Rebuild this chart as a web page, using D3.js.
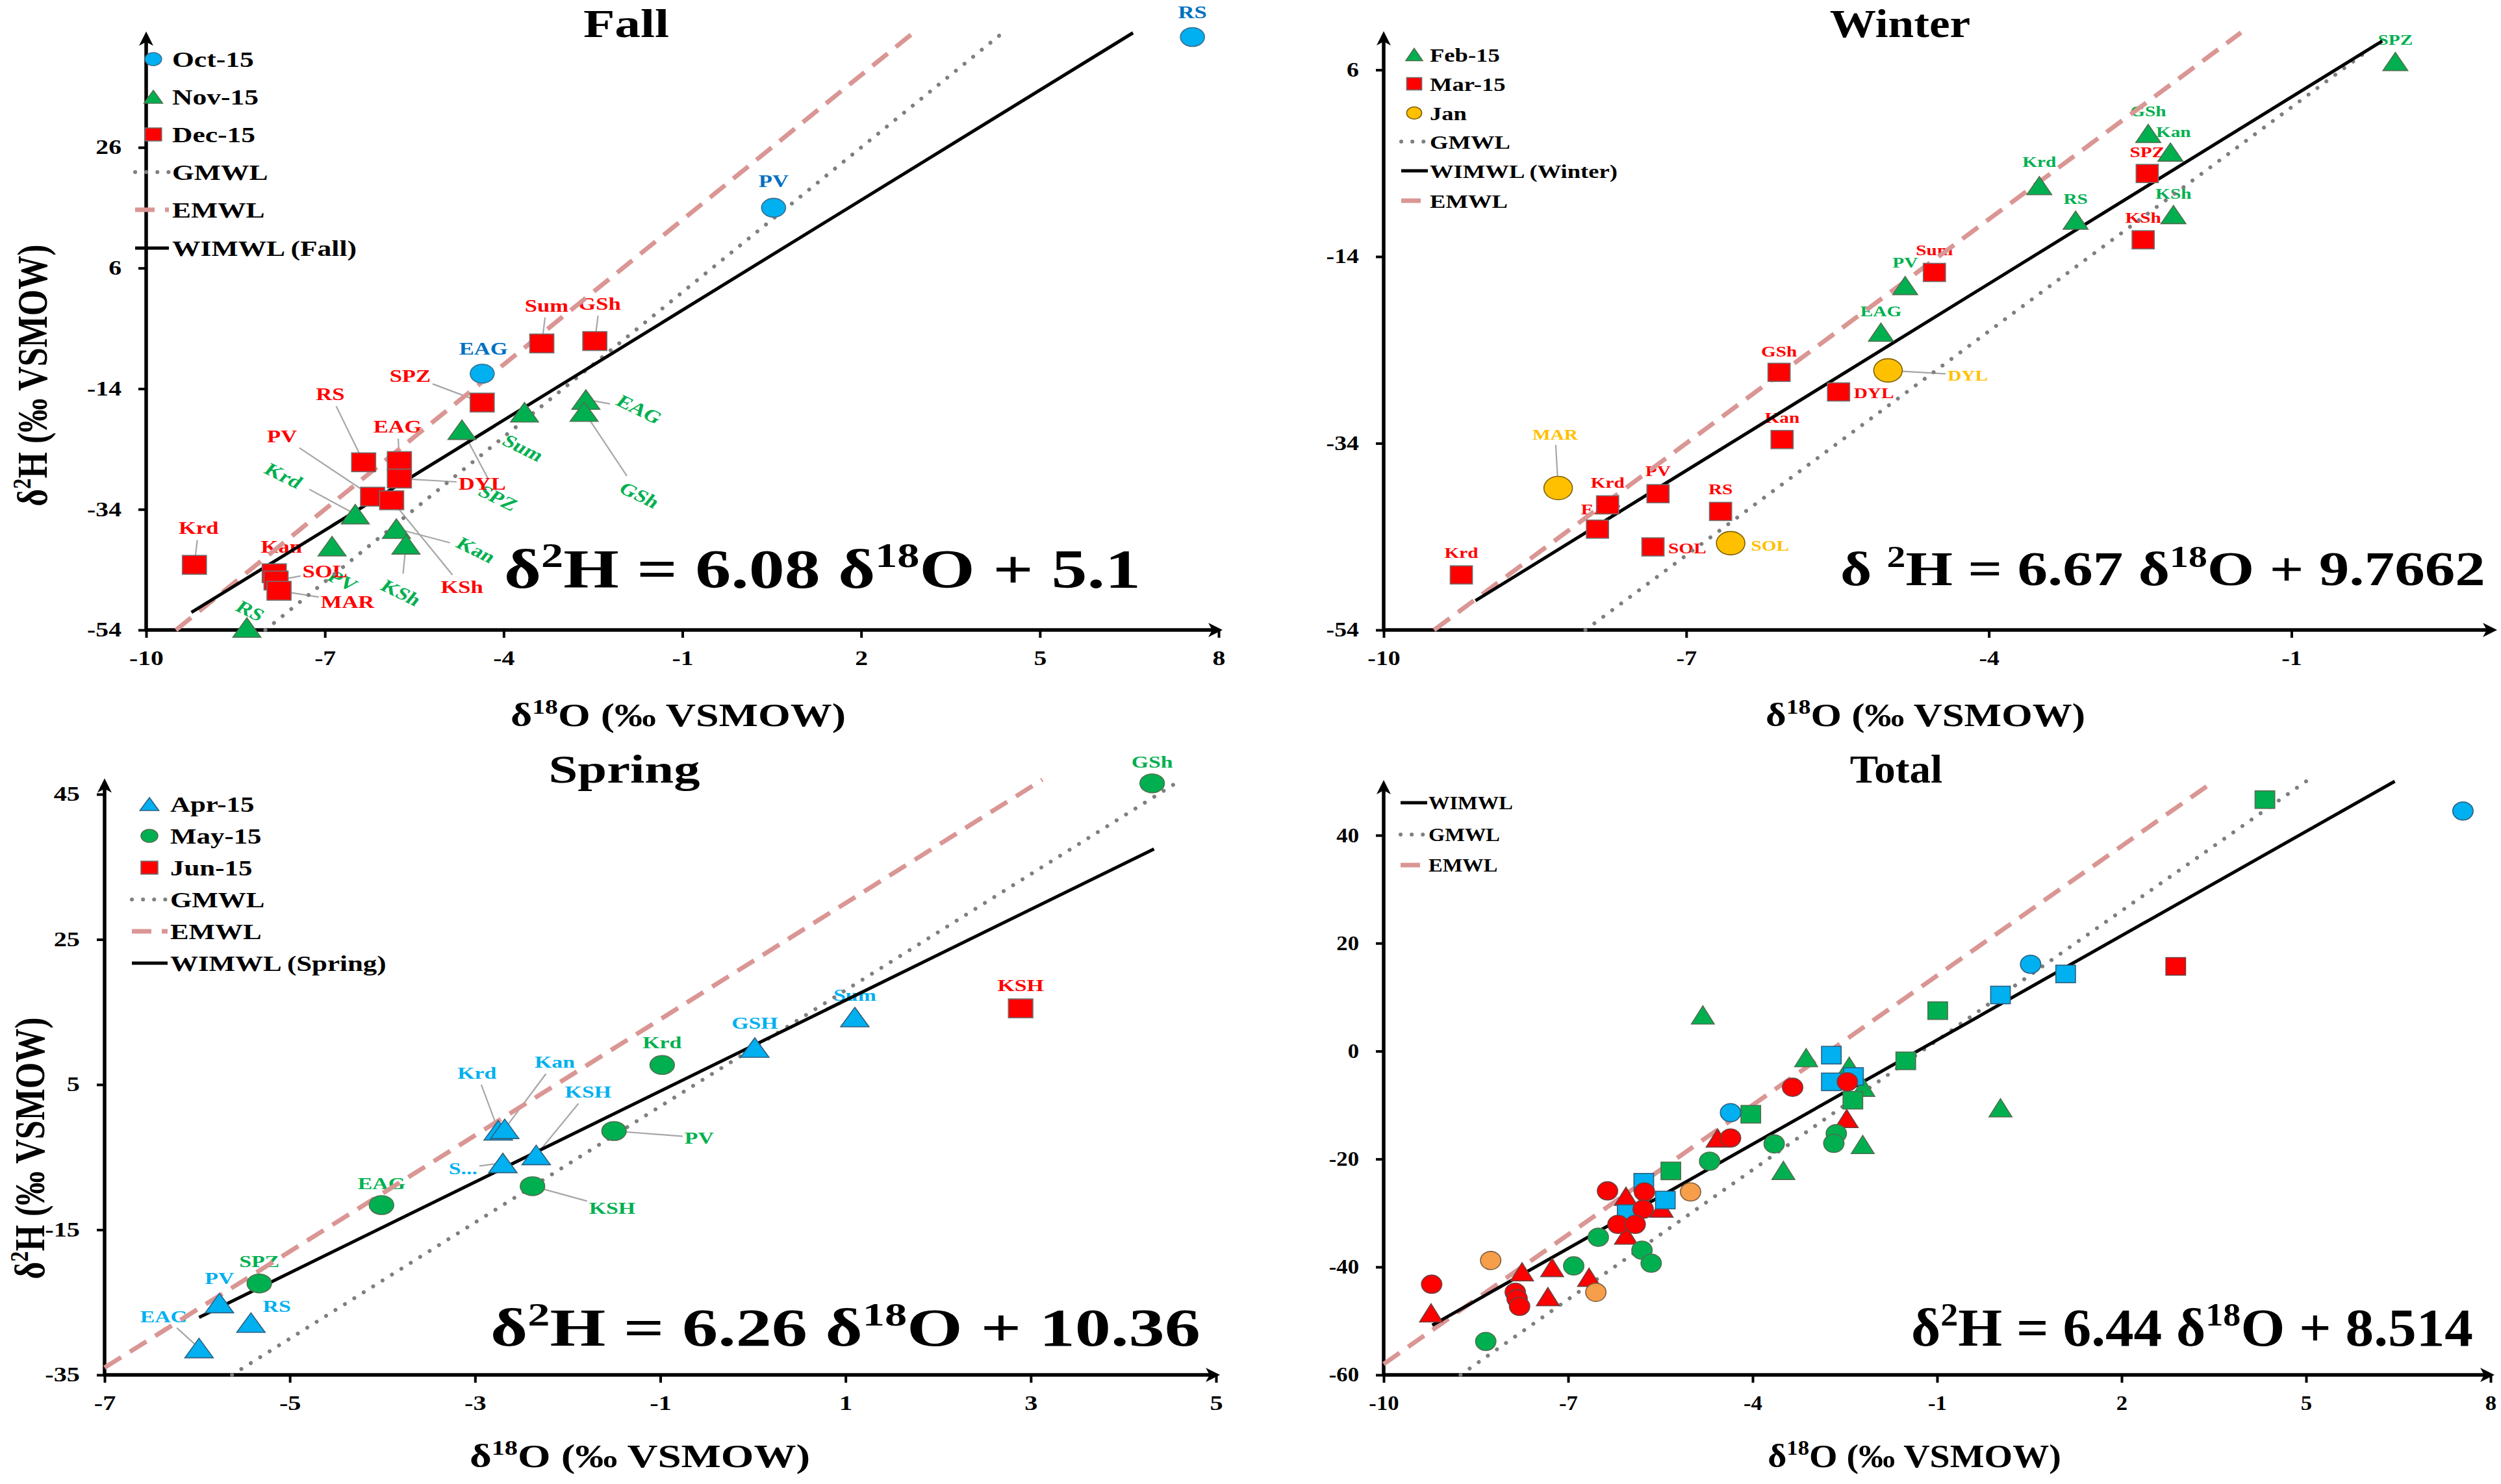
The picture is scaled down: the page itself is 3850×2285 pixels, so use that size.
<!DOCTYPE html>
<html><head><meta charset="utf-8">
<script src="https://cdn.jsdelivr.net/npm/d3@7/dist/d3.min.js"></script>
<style>
html,body{margin:0;padding:0;background:#fff;}
svg{display:block;}
</style></head><body>
<svg id="chart" width="3850" height="2285"></svg>
<script>
// ======================= DATA =======================
// ---- Fall ----  [site, d18O, d2H]
const fallOct = [["RS",7.56,44.3],["PV",0.53,16.0],["EAG",-4.36,-11.5]];
const fallNov = [["RS",-8.31,-53.6],["PV",-6.88,-40.1],["Krd",-6.49,-34.8],["Kan",-5.80,-37.2],["KSh",-5.64,-39.8],
                 ["SPZ",-4.70,-20.8],["Sum",-3.65,-17.9],["EAG",-2.62,-15.8],["GSh",-2.65,-17.8]];
const fallDec = [["Krd",-9.19,-43.2],["Kan",-7.85,-44.6],["SOL",-7.82,-45.8],["MAR",-7.77,-47.5],["RS",-6.35,-26.2],
                 ["EAG",-5.75,-26.0],["DYL",-5.75,-28.9],["PV",-6.20,-31.9],["KSh",-5.88,-32.5],["SPZ",-4.36,-16.3],
                 ["Sum",-3.36,-6.5],["GSh",-2.47,-6.1]];
// ---- Winter ----
const winterFeb = [["SPZ",0.03,6.9],["GSh",-2.42,-0.8],["Kan",-2.20,-2.8],["Krd",-3.50,-6.4],["KSh",-2.17,-9.5],
                   ["RS",-3.14,-10.1],["PV",-4.83,-17.1],["EAG",-5.07,-22.1]];
const winterMar = [["SPZ",-2.43,-5.1],["KSh",-2.47,-12.2],["Sum",-4.54,-15.7],["GSh",-6.08,-26.4],["DYL",-5.49,-28.5],
                   ["Kan",-6.05,-33.6],["PV",-7.28,-39.4],["Krd",-7.78,-40.6],["EAG",-7.88,-43.2],["RS",-6.66,-41.3],
                   ["SOL",-7.33,-45.1],["Krd",-9.23,-48.1]];
const winterJan = [["MAR",-8.27,-38.8],["DYL",-5.00,-26.2],["SOL",-6.56,-44.7]];
// ---- Spring ----
const springApr = [["Sum",1.10,14.3],["GSH",0.02,10.1],["Krd",-2.75,-1.3],["Kan",-2.68,-1.1],["KSH",-2.34,-4.7],
                   ["S...",-2.70,-5.8],["PV",-5.76,-25.1],["RS",-5.42,-27.8],["EAG",-5.98,-31.3]];
const springMay = [["GSh",4.31,46.5],["Krd",-0.98,7.7],["PV",-1.50,-1.4],["KSH",-2.38,-9.0],["EAG",-4.01,-11.6],["SPZ",-5.33,-22.4]];
const springJun = [["KSH",2.89,15.5]];
// ---- Total ----  [d18O, d2H]
const totalOct = [[7.55,44.5],[0.52,16.1],[-4.36,-11.4]];
const totalNov = [[-8.34,-53.8],[-6.91,-39.8],[-6.51,-34.5],[-5.80,-36.9],[-5.65,-39.3],[-4.70,-20.4],[-3.65,-17.2],[-2.64,-15.3],[-2.68,-17.1]];
const totalDec = [[-9.22,-43.2],[-7.86,-44.7],[-7.83,-45.9],[-7.79,-47.3],[-6.36,-25.9],[-5.76,-26.1],[-5.78,-29.3],[-6.19,-32.1],
                  [-5.91,-32.1],[-4.36,-16.1],[-3.35,-6.7],[-2.46,-5.7]];
const totalJan = [[-8.26,-38.8],[-6.55,-44.7],[-5.01,-26.1]];
const totalFeb = [[-4.81,6.7],[-3.13,-1.2],[-2.43,-2.8],[-2.20,-6.7],[-2.21,-17.3],[-3.50,-22.1],[0.03,-10.5]];
const totalMar = [[-9.23,-48.5],[-7.75,-40.9],[-7.26,-40.1],[-7.33,-45.5],[-6.66,-41.9],[-6.06,-34.1],[-6.06,-26.9],[-5.48,-29.1],[-4.57,-16.1],[-2.47,-12.5]];
const totalApr = [[1.09,14.3],[0.03,10.4],[-2.72,-0.75],[-2.72,-5.7],[-2.36,-4.7],[-5.77,-24.3],[-5.42,-27.6],[-6.04,-30.1]];
const totalMay = [[4.33,46.6],[-0.99,7.5],[-1.51,-1.8],[-2.37,-9.1],[-4.03,-11.7],[-5.33,-22.2]];
const totalJun = [[2.88,15.7]];

// ---- data-label anchors (data units), aligned with the series above; 3rd value = leader line ----
const fallOctLab = [[7.56,48.4,0],[0.53,20.4,0],[-4.34,-7.3,0]];
const fallNovLab = [[-8.25,-50.8,0],[-6.70,-45.8,0],[-7.69,-28.4,1],[-4.46,-40.7,1],[-5.72,-47.8,1],
                    [-4.09,-32.1,1],[-3.67,-23.8,0],[-1.72,-17.4,1],[-1.72,-31.6,1]];
const fallDecLab = [[-9.12,-37.1,1],[-7.73,-40.2,0],[-7.00,-44.3,1],[-6.62,-49.3,1],[-6.91,-14.9,1],
                    [-5.78,-20.3,1],[-4.36,-29.7,1],[-7.72,-21.9,1],[-4.70,-46.8,1],[-5.57,-11.8,1],
                    [-3.28,-0.2,1],[-2.39,0.1,1]];
const winterFebLab = [[0.03,9.3,0],[-2.42,1.6,0],[-2.17,-0.6,0],[-3.50,-3.8,0],[-2.17,-7.2,0],[-3.14,-7.8,0],[-4.83,-14.6,0],[-5.07,-19.8,0]];
const winterMarLab = [[-2.43,-2.8,0],[-2.47,-9.8,0],[-4.54,-13.3,0],[-6.08,-24.1,0],[-5.14,-28.6,0],[-6.05,-31.2,0],
                      [-7.28,-36.9,0],[-7.78,-38.2,0],[-7.84,-41.0,0],[-6.66,-38.9,0],[-6.99,-45.2,0],[-9.23,-45.7,0]];
const winterJanLab = [[-8.30,-33.0,1],[-4.21,-26.7,1],[-6.17,-44.9,0]];
const springAprLab = [[1.10,17.4,0],[0.02,13.5,0],[-2.98,6.6,1],[-2.14,8.1,1],[-1.78,4.0,1],[-3.13,-6.5,1],
                      [-5.76,-21.7,0],[-5.14,-25.5,0],[-6.36,-26.9,1]];
const springMayLab = [[4.31,49.5,0],[-0.98,10.8,0],[-0.58,-2.3,1],[-1.52,-12.0,1],[-4.01,-8.6,0],[-5.33,-19.3,0]];
const springJunLab = [[2.89,18.7,0]];

// ---- axes ticks ----
const fallTicksX = [-10,-7,-4,-1,2,5,8],   fallTicksY = [-54,-34,-14,6,26];
const winterTicksX = [-10,-7,-4,-1],       winterTicksY = [-54,-34,-14,6];
const springTicksX = [-7,-5,-3,-1,1,3,5],  springTicksY = [-35,-15,5,25,45];
const totalTicksX = [-10,-7,-4,-1,2,5,8],  totalTicksY = [-60,-40,-20,0,20,40];

// ---- meteoric water lines: slope, intercept, x-extent ----
const GMWL = [8, 10], EMWL = [8, 22];
const wimwlFall = [6.08, 5.1], wimwlWinter = [6.67, 9.7662], wimwlSpring = [6.26, 10.36], wimwlTotal = [6.44, 8.514];
const fallLineX   = {GMWL:[-10,8],    EMWL:[-10,8],  WIMWL:[-9.24,8]};
const winterLineX = {GMWL:[-10,-0.3], EMWL:[-10,1],  WIMWL:[-9.09,-0.1]};
const springLineX = {GMWL:[-7,5],     EMWL:[-7,5],   WIMWL:[-5.98,4.33]};
const totalLineX  = {GMWL:[-10,8],    EMWL:[-10,8],  WIMWL:[-9.21,8]};

// ---- text ----
const fallLegend   = [["Oct-15","s0"],["Nov-15","s1"],["Dec-15","s2"],["GMWL","GMWL"],["EMWL","EMWL"],["WIMWL (Fall)","WIMWL"]];
const winterLegend = [["Feb-15","s0"],["Mar-15","s1"],["Jan","s2"],["GMWL","GMWL"],["WIMWL (Winter)","WIMWL"],["EMWL","EMWL"]];
const springLegend = [["Apr-15","s0"],["May-15","s1"],["Jun-15","s2"],["GMWL","GMWL"],["EMWL","EMWL"],["WIMWL (Spring)","WIMWL"]];
const totalLegend  = [["WIMWL","WIMWL"],["GMWL","GMWL"],["EMWL","EMWL"]];
const fallEq   = [["δ"],["2",1],["H = 6.08 δ"],["18",1],["O + 5.1"]];
const winterEq = [["δ "],["2",1],["H = 6.67 δ"],["18",1],["O + 9.7662"]];
const springEq = [["δ"],["2",1],["H = 6.26 δ"],["18",1],["O + 10.36"]];
const totalEq  = [["δ"],["2",1],["H = 6.44 δ"],["18",1],["O + 8.514"]];
const xTitle = [["δ"],["18",1],["O (‰ VSMOW)"]];
const yTitle = [["δ"],["2",1],["H (‰ VSMOW)"]];

// ======================= STYLE / LAYOUT =======================
const FONT = "'Liberation Serif','Times New Roman',serif";
const C = {blue:"#00B0F0", green:"#00B050", red:"#FF0000", gold:"#FFC000", orange:"#F79E4A"};
const LINE_STYLE = {
  GMWL:{stroke:"#7F7F7F", w:6, dash:"0.1 17", cap:"round"},
  EMWL:{stroke:"#DA9694", w:7, dash:"30 16", cap:"butt"},
  WIMWL:{stroke:"#000000", w:5, dash:null, cap:"butt"}
};

const PANELS = [
 { title:"Fall", sx:1.28, tsx:1.28,
   xDomain:[-10,8], yDomain:[-54,45], xRange:[225,1876], yRange:[970,50.5],
   xTicks:fallTicksX, yTicks:fallTicksY,
   titlePos:[964,57], xTitlePos:[1044,1118], yTitlePos:[72,578],
   eq:{parts:fallEq, x:776, y:905, w:980, size:84},
   wimwl:wimwlFall, lineX:fallLineX, labelSize:27,
   series:[
     {data:fallOct, lab:fallOctLab, shape:"circle",   fill:C.blue,  stroke:"#3a6f8f", lc:"#0070C0", h:29},
     {data:fallNov, lab:fallNovLab, shape:"triangle", fill:C.green, stroke:"#4f6f4f", lc:"#00B050", h:30, rot:32},
     {data:fallDec, lab:fallDecLab, shape:"square",   fill:C.red,   stroke:"#6f6f6f", lc:"#FF0000", h:29}],
   legend:{items:fallLegend, mx:236, tx:265, lx:[208,260], rows:[91,149,207,265,323,382], size:34, mh:20}
 },
 { title:"Winter", sx:1.22, tsx:1.15,
   xDomain:[-10,1], yDomain:[-54,10], xRange:[2130,3838], yRange:[970,50.1],
   xTicks:winterTicksX, yTicks:winterTicksY,
   titlePos:[2925,57], xTitlePos:[2964,1118], yTitlePos:null,
   eq:{parts:winterEq, x:2833, y:901, w:993, size:74},
   wimwl:wimwlWinter, lineX:winterLineX, labelSize:24,
   series:[
     {data:winterFeb, lab:winterFebLab, shape:"triangle", fill:C.green, stroke:"#4f6f4f", lc:"#00B050", h:28},
     {data:winterMar, lab:winterMarLab, shape:"square",   fill:C.red,   stroke:"#6f6f6f", lc:"#FF0000", h:28},
     {data:winterJan, lab:winterJanLab, shape:"circle",   fill:C.gold,  stroke:"#7F6000", lc:"#FFC000", h:36}],
   legend:{items:winterLegend, mx:2177, tx:2201, lx:[2157,2198], rows:[84,129,174,218,263,309], size:30, mh:19}
 },
 { title:"Spring", sx:1.3, tsx:1.3,
   xDomain:[-7,5], yDomain:[-35,47], xRange:[161,1872], yRange:[2117,1200.6],
   xTicks:springTicksX, yTicks:springTicksY,
   titlePos:[961,1205], xTitlePos:[985,2259], yTitlePos:[68,1768],
   eq:{parts:springEq, x:755, y:2072, w:1093, size:82},
   wimwl:wimwlSpring, lineX:springLineX, labelSize:26,
   series:[
     {data:springApr, lab:springAprLab, shape:"triangle", fill:C.blue,  stroke:"#2f5f7f", lc:"#00B0F0", h:30},
     {data:springMay, lab:springMayLab, shape:"circle",   fill:C.green, stroke:"#4f6f4f", lc:"#00B050", h:29},
     {data:springJun, lab:springJunLab, shape:"square",   fill:C.red,   stroke:"#6f6f6f", lc:"#FF0000", h:29}],
   legend:{items:springLegend, mx:230, tx:262, lx:[203,258], rows:[1238,1287,1336,1385,1434,1483], size:33, mh:20}
 },
 { title:"Total", sx:1.12, tsx:1.05,
   xDomain:[-10,8], yDomain:[-60,50], xRange:[2130,3834], yRange:[2117,1203],
   xTicks:totalTicksX, yTicks:totalTicksY,
   titlePos:[2919,1205], xTitlePos:[2947,2259], yTitlePos:null,
   eq:{parts:totalEq, x:2942, y:2072, w:865, size:82},
   wimwl:wimwlTotal, lineX:totalLineX, labelSize:26,
   series:[
     {data:totalFeb, shape:"triangle", fill:C.green,  stroke:"#4f6f4f", h:28},
     {data:totalMar, shape:"triangle", fill:C.red,    stroke:"#6f3f3f", h:28},
     {data:totalApr, shape:"square",   fill:C.blue,   stroke:"#2f5f7f", h:27},
     {data:totalMay, shape:"square",   fill:C.green,  stroke:"#4f6f4f", h:27},
     {data:totalJun, shape:"square",   fill:C.red,    stroke:"#6f3f3f", h:27},
     {data:totalOct, shape:"circle",   fill:C.blue,   stroke:"#2f5f7f", h:28},
     {data:totalNov, shape:"circle",   fill:C.green,  stroke:"#4f6f4f", h:28},
     {data:totalDec, shape:"circle",   fill:C.red,    stroke:"#6f3f3f", h:28},
     {data:totalJan, shape:"circle",   fill:C.orange, stroke:"#7f5f3f", h:28}],
   legend:{items:totalLegend, mx:null, tx:2199, lx:[2156,2197], rows:[1236,1285,1332], size:29, mh:18}
 }
];

// ======================= DRAWING =======================
const svg = d3.select("#chart");
const leaders = [];

function richText(sel, parts, size) {
  const t = sel.append("text").attr("font-size", size).attr("font-family", FONT).attr("font-weight", "bold").attr("fill", "#000");
  let raised = false;
  parts.forEach(p => {
    const sup = p[1] === 1;
    const ts = t.append("tspan").text(p[0]);
    if (sup) { ts.attr("font-size", size * 0.62).attr("dy", raised ? 0 : -size * 0.38); raised = true; }
    else { if (raised) ts.attr("dy", size * 0.38); raised = false; }
  });
  return t;
}

function marker(sel, shape, cx, cy, h, sx, fill, stroke) {
  const w = h * sx;
  let m;
  if (shape === "circle") m = sel.append("ellipse").attr("cx", cx).attr("cy", cy).attr("rx", w / 2).attr("ry", h / 2);
  else if (shape === "square") m = sel.append("rect").attr("x", cx - w / 2).attr("y", cy - h / 2).attr("width", w).attr("height", h);
  else {
    const p = d3.path();
    p.moveTo(cx, cy - h / 2); p.lineTo(cx + w * 0.56, cy + h / 2); p.lineTo(cx - w * 0.56, cy + h / 2); p.closePath();
    m = sel.append("path").attr("d", p.toString());
  }
  m.attr("fill", fill).attr("stroke", stroke).attr("stroke-width", 1.6);
  return m;
}

function styleLine(sel, type) {
  const s = LINE_STYLE[type];
  sel.attr("stroke", s.stroke).attr("stroke-width", s.w).attr("stroke-linecap", s.cap).attr("fill", "none");
  if (s.dash) sel.attr("stroke-dasharray", s.dash);
  return sel;
}

function renderPanel(P) {
  const g = svg.append("g");
  const x = d3.scaleLinear().domain(P.xDomain).range(P.xRange);
  const y = d3.scaleLinear().domain(P.yDomain).range(P.yRange);
  const X0 = P.xRange[0], X1 = P.xRange[1], Y0 = P.yRange[0], Y1 = P.yRange[1];
  const sx = P.sx;

  const axisG = g.append("g"), leaderG = g.append("g"), labelG = g.append("g"),
        lineG = g.append("g"), markG = g.append("g"), legG = g.append("g"), textG = g.append("g");

  // ---- axes ----
  const xa = axisG.append("g").attr("transform", `translate(0,${Y0})`)
    .call(d3.axisBottom(x).tickValues(P.xTicks).tickFormat(d => String(d)).tickSize(12).tickSizeOuter(0).tickPadding(20));
  const ya = axisG.append("g").attr("transform", `translate(${X0},0)`)
    .call(d3.axisLeft(y).tickValues(P.yTicks).tickFormat(d => String(d)).tickSize(12).tickSizeOuter(0).tickPadding(26));
  [xa, ya].forEach(a => {
    a.attr("font-family", FONT).attr("font-size", 31).attr("font-weight", "bold");
    a.select(".domain").remove();
    a.selectAll(".tick line").attr("stroke", "#000").attr("stroke-width", 4);
    a.selectAll(".tick text").attr("fill", "#000");
  });
  xa.selectAll(".tick text").attr("transform", `scale(${sx},1)`);
  ya.selectAll(".tick text").attr("x", -38 / sx).attr("transform", `scale(${sx},1)`);
  axisG.append("line").attr("x1", X0 - 2).attr("y1", Y0).attr("x2", X1 - 4).attr("y2", Y0).attr("stroke", "#000").attr("stroke-width", 5.5);
  axisG.append("line").attr("x1", X0).attr("y1", Y0 + 2).attr("x2", X0).attr("y2", Y1 + 12).attr("stroke", "#000").attr("stroke-width", 5.5);
  axisG.append("path").attr("d", `M${X1 + 6},${Y0} L${X1 - 16},${Y0 - 11} L${X1 - 10},${Y0} L${X1 - 16},${Y0 + 11} Z`).attr("fill", "#000");
  axisG.append("path").attr("d", `M${X0},${Y1 - 2} L${X0 - 11},${Y1 + 20} L${X0},${Y1 + 14} L${X0 + 11},${Y1 + 20} Z`).attr("fill", "#000");

  // ---- meteoric water lines ----
  const [ymin, ymax] = P.yDomain;
  const lines = [["GMWL", GMWL], ["EMWL", EMWL], ["WIMWL", P.wimwl]];
  lines.forEach(([type, [m, b]]) => {
    let [xa0, xa1] = P.lineX[type];
    xa0 = Math.max(xa0, (ymin - b) / m, P.xDomain[0]);
    xa1 = Math.min(xa1, (ymax - b) / m, P.xDomain[1]);
    styleLine(lineG.append("line")
      .attr("x1", x(xa0)).attr("y1", y(m * xa0 + b))
      .attr("x2", x(xa1)).attr("y2", y(m * xa1 + b)), type);
  });

  // ---- markers & labels ----
  P.series.forEach(S => {
    S.data.forEach((d, i) => {
      const vx = d.length === 3 ? d[1] : d[0], vy = d.length === 3 ? d[2] : d[1];
      const px = x(vx), py = y(vy);
      marker(markG, S.shape, px, py, S.h, sx, S.fill, S.stroke);
      if (S.lab && d.length === 3) {
        const L = S.lab[i];
        const lx = x(L[0]), ly = y(L[1]);
        const lg = labelG.append("g").attr("transform", `translate(${lx},${ly}) scale(${sx},1) rotate(${S.rot || 0})`);
        lg.append("text").text(d[0]).attr("text-anchor", "middle").attr("dy", "0.35em")
          .attr("font-family", FONT).attr("font-weight", "bold").attr("font-size", P.labelSize).attr("fill", S.lc);
        if (L[2]) leaders.push({node: lg.node(), px, py, cx: lx, cy: ly, g: leaderG});
      }
    });
  });

  // ---- legend ----
  const Lg = P.legend;
  Lg.items.forEach((it, i) => {
    const ry = Lg.rows[i];
    const key = it[1];
    if (key[0] === "s") {
      const S = P.series[+key.slice(1)];
      marker(legG, S.shape, Lg.mx, ry, Lg.mh, sx, S.fill, S.stroke);
    } else {
      styleLine(legG.append("line").attr("x1", Lg.lx[0]).attr("y1", ry).attr("x2", Lg.lx[1]).attr("y2", ry), key);
    }
    const tg = legG.append("g").attr("transform", `translate(${Lg.tx},${ry}) scale(${sx},1)`);
    tg.append("text").text(it[0]).attr("dy", "0.35em").attr("font-family", FONT).attr("font-weight", "bold")
      .attr("font-size", Lg.size).attr("fill", "#000");
  });

  // ---- titles ----
  const tt = textG.append("g").attr("transform", `translate(${P.titlePos[0]},${P.titlePos[1]}) scale(${P.tsx},1)`);
  tt.append("text").text(P.title).attr("text-anchor", "middle").attr("font-family", FONT).attr("font-weight", "bold").attr("font-size", 62);

  const xt = textG.append("g").attr("transform", `translate(${P.xTitlePos[0]},${P.xTitlePos[1]}) scale(${sx},1)`);
  richText(xt, xTitle, 50).attr("text-anchor", "middle");

  if (P.yTitlePos) {
    const yt = textG.append("g").attr("transform", `translate(${P.yTitlePos[0]},${P.yTitlePos[1]}) scale(1.25,1) rotate(-90)`);
    richText(yt, yTitle, 52).attr("text-anchor", "middle");
  }

  // ---- equation ----
  const eg = textG.append("g");
  const et = richText(eg, P.eq.parts, P.eq.size);
  const bw = et.node().getBBox().width;
  eg.attr("transform", `translate(${P.eq.x},${P.eq.y}) scale(${P.eq.w / bw},1)`);
}

PANELS.forEach(renderPanel);

// ---- leader lines (from label box edge to the point) ----
const sr = svg.node().getBoundingClientRect();
leaders.forEach(L => {
  const r = L.node.getBoundingClientRect();
  const pad = 3;
  const bx0 = r.left - sr.left - pad, bx1 = r.right - sr.left + pad, by0 = r.top - sr.top - pad, by1 = r.bottom - sr.top + pad;
  const dx = L.px - L.cx, dy = L.py - L.cy;
  let t = 1;
  if (dx > 0) t = Math.min(t, (bx1 - L.cx) / dx); else if (dx < 0) t = Math.min(t, (bx0 - L.cx) / dx);
  if (dy > 0) t = Math.min(t, (by1 - L.cy) / dy); else if (dy < 0) t = Math.min(t, (by0 - L.cy) / dy);
  if (t >= 1) return;
  L.g.append("line").attr("x1", L.cx + t * dx).attr("y1", L.cy + t * dy).attr("x2", L.px).attr("y2", L.py)
    .attr("stroke", "#A6A6A6").attr("stroke-width", 2.2);
});
</script>
</body></html>
